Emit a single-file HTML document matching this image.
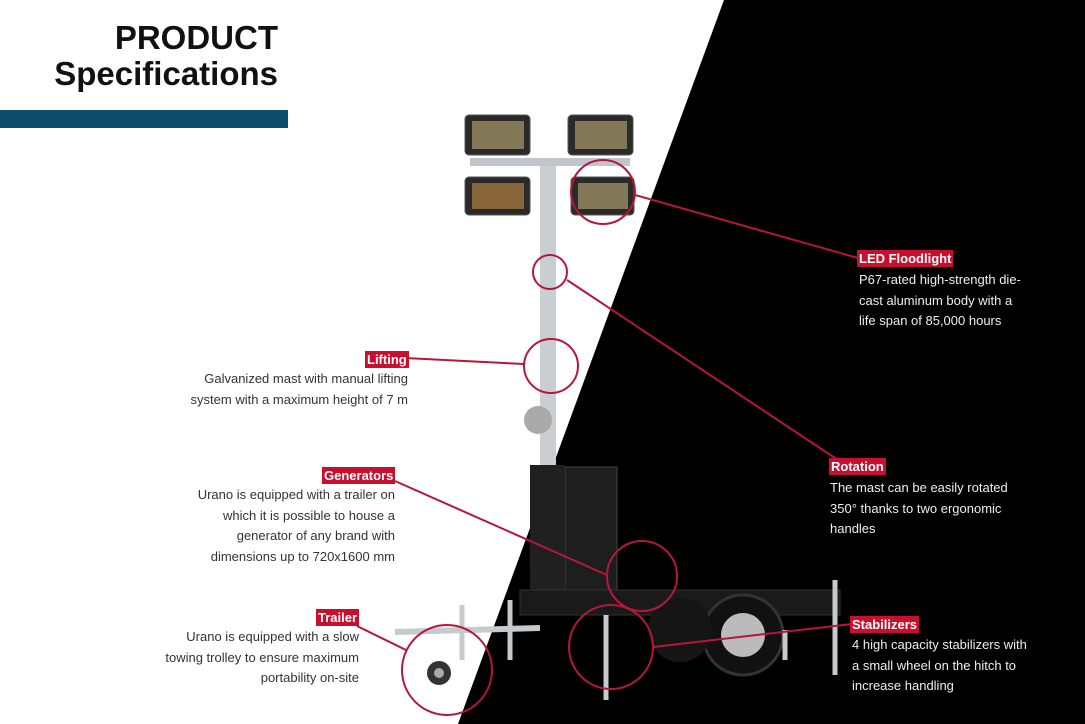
<!DOCTYPE html>
<html><head><meta charset="utf-8"><style>
body{margin:0;width:1085px;height:724px;overflow:hidden;background:#fff;font-family:"Liberation Sans",sans-serif}
svg{position:absolute;left:0;top:0}
.t{position:absolute;font-size:13px;line-height:20.5px}
.l{position:absolute;background:#c8102e;color:#fff;font-weight:bold;font-size:13px;padding:0 2px;line-height:17px}
.w{color:#eee}.g{color:#333}
h1{position:absolute;right:807px;top:20px;margin:0;text-align:right;font-size:33px;line-height:36px;font-weight:bold;color:#111}
</style></head><body>
<svg width="1085" height="724">
<polygon points="724,0 1085,0 1085,724 458,724" fill="#000"/>
<rect x="0" y="110" width="288" height="18" fill="#0b4d6b"/>
<!-- mast -->
<rect x="540" y="160" width="16" height="450" fill="#c9ced3"/>
<rect x="470" y="158" width="160" height="8" fill="#bfc5ca"/>
<g fill="#2a2a2a" stroke="#555"><rect x="465" y="115" width="65" height="40" rx="4"/><rect x="568" y="115" width="65" height="40" rx="4"/><rect x="465" y="177" width="65" height="38" rx="4"/><rect x="571" y="177" width="63" height="38" rx="4"/></g>
<g fill="#a89a6a" opacity=".7"><rect x="472" y="121" width="52" height="28"/><rect x="575" y="121" width="52" height="28"/><rect x="472" y="183" width="52" height="26" fill="#b08040"/><rect x="578" y="183" width="50" height="26"/></g>
<circle cx="538" cy="420" r="14" fill="#aaa"/>
<!-- generator & trailer -->
<rect x="565" y="467" width="52" height="125" fill="#1e1e1e" stroke="#444"/>
<rect x="530" y="465" width="35" height="140" fill="#202020"/>
<rect x="520" y="590" width="320" height="25" fill="#1a1a1a" stroke="#333"/>
<line x1="395" y1="632" x2="540" y2="628" stroke="#c5cace" stroke-width="6"/>
<circle cx="743" cy="635" r="40" fill="#111" stroke="#333" stroke-width="3"/>
<circle cx="743" cy="635" r="22" fill="#bbb"/>
<circle cx="680" cy="630" r="32" fill="#151515"/>
<g stroke="#c5cace" stroke-width="5"><line x1="510" y1="600" x2="510" y2="660"/><line x1="606" y1="615" x2="606" y2="700"/><line x1="835" y1="580" x2="835" y2="675"/><line x1="785" y1="630" x2="785" y2="660"/><line x1="462" y1="605" x2="462" y2="660"/></g>
<circle cx="439" cy="673" r="12" fill="#333"/><circle cx="439" cy="673" r="5" fill="#aaa"/>
<!-- callouts -->
<g fill="none" stroke="#b5173a" stroke-width="2">
<circle cx="603" cy="192" r="32"/><circle cx="550" cy="272" r="17"/><circle cx="551" cy="366" r="27"/><circle cx="642" cy="576" r="35"/><circle cx="611" cy="647" r="42"/><circle cx="447" cy="670" r="45"/>
<line x1="635" y1="195" x2="858" y2="258"/><line x1="567" y1="280" x2="838" y2="460"/><line x1="405" y1="358" x2="524" y2="364"/><line x1="395" y1="481" x2="607" y2="575"/><line x1="357" y1="626" x2="406" y2="650"/><line x1="653" y1="647" x2="852" y2="624"/>
</g>
</svg>
<h1>PRODUCT<br>Specifications</h1>
<div class="l" style="left:857px;top:250px">LED Floodlight</div>
<div class="t w" style="left:859px;top:270px">P67-rated high-strength die-<br>cast aluminum body with a<br>life span of 85,000 hours</div>
<div class="l" style="left:829px;top:458px">Rotation</div>
<div class="t w" style="left:830px;top:478px">The mast can be easily rotated<br>350° thanks to two ergonomic<br>handles</div>
<div class="l" style="left:850px;top:616px">Stabilizers</div>
<div class="t w" style="left:852px;top:635px">4 high capacity stabilizers with<br>a small wheel on the hitch to<br>increase handling</div>
<div class="l" style="left:365px;top:351px">Lifting</div>
<div class="t g" style="right:677px;top:369px;text-align:right">Galvanized mast with manual lifting<br>system with a maximum height of 7 m</div>
<div class="l" style="left:322px;top:467px">Generators</div>
<div class="t g" style="right:690px;top:485px;text-align:right">Urano is equipped with a trailer on<br>which it is possible to house a<br>generator of any brand with<br>dimensions up to 720x1600 mm</div>
<div class="l" style="left:316px;top:609px">Trailer</div>
<div class="t g" style="right:726px;top:627px;text-align:right">Urano is equipped with a slow<br>towing trolley to ensure maximum<br>portability on-site</div>
</body></html>
